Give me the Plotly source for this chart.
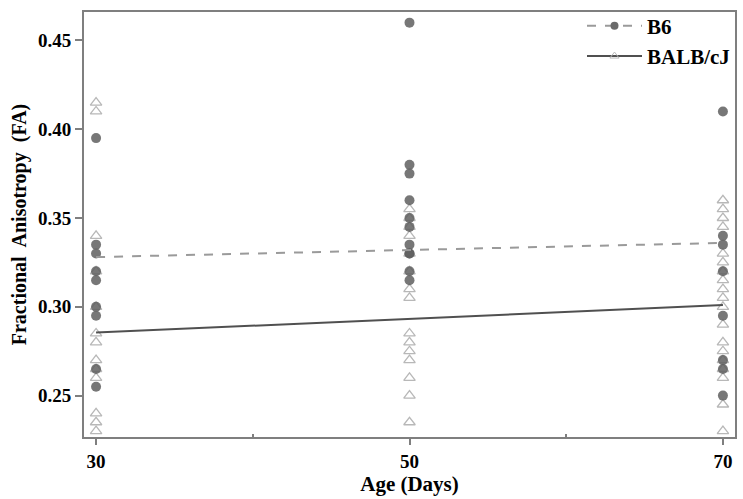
import plotly.graph_objects as go

# values
b6_age = [30] * 9 + [50] * 11 + [70] * 8
b6_fa = [0.395, 0.335, 0.330, 0.320, 0.315, 0.300, 0.295, 0.265, 0.255,
         0.460, 0.380, 0.375, 0.360, 0.350, 0.345, 0.335, 0.330, 0.320, 0.315, 0.330,
         0.410, 0.340, 0.335, 0.320, 0.295, 0.270, 0.265, 0.250]

balb_age = [30] * 13 + [50] * 15 + [70] * 19
balb_fa = [0.415, 0.410, 0.340, 0.320, 0.300, 0.285, 0.280, 0.270, 0.265, 0.260, 0.240, 0.235, 0.230,
           0.355, 0.350, 0.345, 0.340, 0.330, 0.320, 0.310, 0.305, 0.285, 0.280, 0.275, 0.270,
           0.260, 0.250, 0.235,
           0.360, 0.355, 0.350, 0.345, 0.330, 0.325, 0.320, 0.315, 0.310, 0.305, 0.300,
           0.290, 0.280, 0.275, 0.270, 0.265, 0.260, 0.245, 0.230]

fit_age = [30, 70]
b6_fit = [0.328, 0.336]
balb_fit = [0.2855, 0.301]

font = "Liberation Serif, Times New Roman, serif"
axis_col = "#7f7f7f"

fig = go.Figure()

# scatter points
fig.add_trace(go.Scatter(x=balb_age, y=balb_fa, mode="markers", showlegend=False,
                         marker=dict(symbol="triangle-up-open", size=10, color="#b8b8b8",
                                     line=dict(width=1.3))))
fig.add_trace(go.Scatter(x=b6_age, y=b6_fa, mode="markers", showlegend=False,
                         marker=dict(symbol="circle", size=10, color="rgba(95,95,95,0.85)")))

# fitted lines
fig.add_trace(go.Scatter(x=fit_age, y=b6_fit, mode="lines", showlegend=False,
                         line=dict(color="#9a9a9a", width=2, dash="dash")))
fig.add_trace(go.Scatter(x=fit_age, y=balb_fit, mode="lines", showlegend=False,
                         line=dict(color="#505050", width=2)))

# legend entries
fig.add_trace(go.Scatter(x=[None], y=[None], mode="lines+markers", name="<b>B6</b>",
                         marker=dict(symbol="circle", size=8, color="#6a6a6a"),
                         line=dict(color="#9a9a9a", width=2, dash="dash")))
fig.add_trace(go.Scatter(x=[None], y=[None], mode="lines+markers", name="<b>BALB/cJ</b>",
                         marker=dict(symbol="triangle-up-open", size=8, color="#b8b8b8"),
                         line=dict(color="#505050", width=2)))

fig.update_layout(
    width=743, height=499,
    margin=dict(l=84, r=8, t=6, b=62),
    plot_bgcolor="white", paper_bgcolor="white",
    font=dict(family=font, color="black", size=19),
    legend=dict(x=1.0, y=1.015, xanchor="right", yanchor="top",
                bgcolor="rgba(0,0,0,0)", font=dict(size=21, family=font),
                tracegroupgap=0, itemwidth=55),
)

fig.update_xaxes(
    range=[29.23, 70.77], tickvals=[30, 50, 70], ticktext=["<b>30</b>", "<b>50</b>", "<b>70</b>"],
    ticks="outside", ticklen=6, tickcolor=axis_col, tickwidth=1.5,
    showline=True, linecolor=axis_col, linewidth=2, mirror=True,
    showgrid=False, zeroline=False,
    minor=dict(tickvals=[40, 60], ticks="inside", ticklen=3, tickcolor=axis_col),
    title=dict(text="<b>Age (Days)</b>", font=dict(size=21), standoff=0),
)
fig.update_yaxes(
    range=[0.2267, 0.466], tickvals=[0.25, 0.30, 0.35, 0.40, 0.45],
    ticktext=["<b>0.25</b>", "<b>0.30</b>", "<b>0.35</b>", "<b>0.40</b>", "<b>0.45</b>"],
    ticks="outside", ticklen=7, tickcolor=axis_col, tickwidth=1.5,
    showline=True, linecolor=axis_col, linewidth=2, mirror=True,
    showgrid=False, zeroline=False,
    title=dict(text="<b>Fractional  Anisotropy  (FA)</b>", font=dict(size=20), standoff=6),
)

fig.write_html("out.html", config={"displayModeBar": False},
               post_script="document.body.style.margin='0px';")
